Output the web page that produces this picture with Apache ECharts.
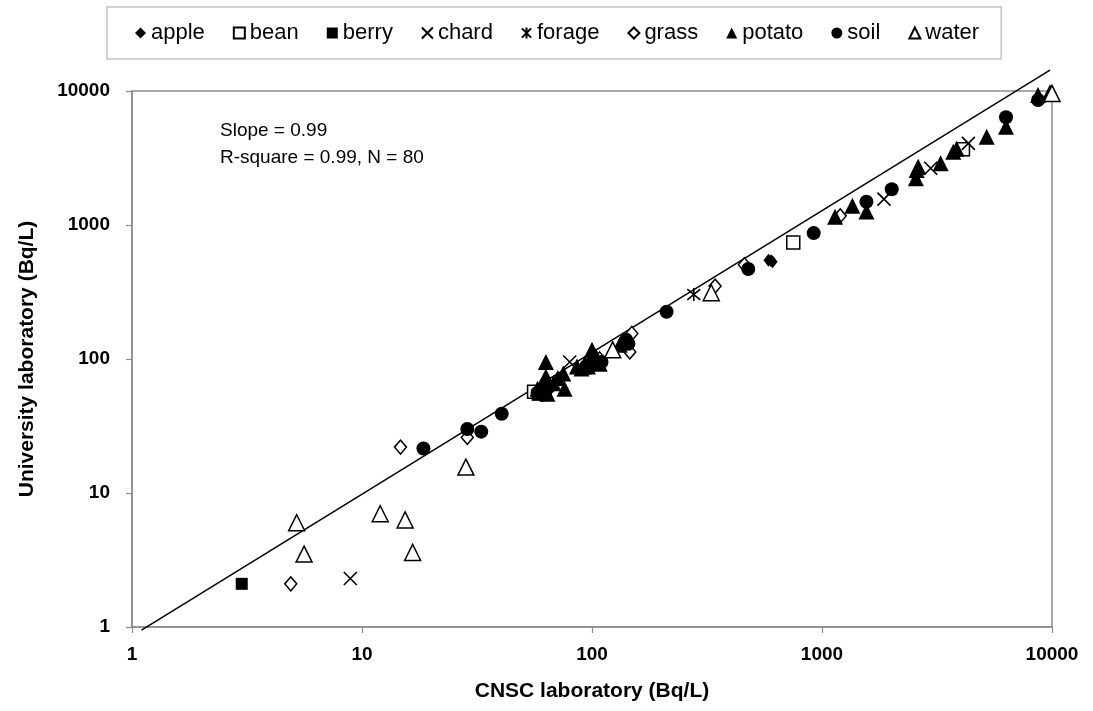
<!DOCTYPE html>
<html><head><meta charset="utf-8">
<script src="https://cdn.jsdelivr.net/npm/echarts@6/dist/echarts.min.js"></script>
<style>html,body{margin:0;padding:0;background:#fff}#c{width:1093px;height:711px}</style>
</head><body><div id="c"></div>
<script>
const categories = ['apple','bean','berry','chard','forage','grass','potato','soil','water'];
const apple = [[600,540],[585,545],[610,532]];
const bean = [[56,57],[750,740],[4100,3670]];
const berry = [[3,2.1],[58,54]];
const chard = [[8.9,2.3],[80,95],[1860,1560],[2970,2650],[4330,4070]];
const forage = [[277,303]];
const grass = [[4.9,2.1],[14.7,22],[28.7,26],[108,100],[146,113],[149,155],[343,350],[460,505],[1200,1170]];
const potato = [[63,95],[63,74],[60,62],[62,67],[58,60],[64,55],[71,72],[75,78],[76,60],[68,66],[86,88],[90,85],[93,92],[96,88],[100,117],[98,100],[104,105],[108,92],[132,128],
  [1140,1150],[1355,1390],[1560,1260],[2580,2570],[2560,2230],[2620,2720],[3280,2890],[3720,3520],[3850,3700],[5200,4560],[6310,5420],[8700,9340],[9800,9800]];
const soil = [[18.5,21.5],[28.7,30],[33,28.7],[40.5,39],[58,56],[61,54],[63,58],[65,62],[97,86],[110,95],[141,139],[144,130],
  [211,225],[478,470],[920,870],[1560,1490],[2010,1850],[6310,6370],[8700,8570]];
const water = [[5.2,6.0],[5.6,3.5],[12,7.0],[15.4,6.3],[16.6,3.6],[28.3,15.6],[123,117],[330,312],[10000,9600]];
const trendLine = [[1.1,0.948],[9800,14330]];
const xTicks = [1,10,100,1000,10000];
const yTicks = [1,10,100,1000,10000];
const annot = ['Slope = 0.99','R-square = 0.99, N = 80'];

const FONT = 'Liberation Sans, Arial, sans-serif';
const dataMap = {apple, bean, berry, chard, forage, grass, potato, soil, water};
const filled = {color:'#000', borderColor:'#000', borderWidth:0, opacity:1};
const open = {color:'#fff', borderColor:'#000', borderWidth:1.5, opacity:1};
const stroke = {color:'rgba(0,0,0,0)', borderColor:'#000', borderWidth:1.6, opacity:1};
const styles = {
  apple:{symbol:'diamond', size:[10,13], item:filled},
  bean:{symbol:'rect', size:13, item:open},
  berry:{symbol:'rect', size:12, item:filled},
  chard:{symbol:'path://M0,0L10,10M10,0L0,10', size:13, item:stroke},
  forage:{symbol:'path://M0,0L10,10M10,0L0,10M5,-1L5,11', size:13, item:stroke},
  grass:{symbol:'diamond', size:[12,14], item:open},
  potato:{symbol:'triangle', size:[16,16], item:filled},
  soil:{symbol:'circle', size:14, item:filled},
  water:{symbol:'triangle', size:[16,16], item:open}
};
const series = categories.map(n => ({
  name:n, type:'scatter', data:dataMap[n], symbol:styles[n].symbol, symbolSize:styles[n].size,
  itemStyle:styles[n].item, emphasis:{disabled:true}, z:3
}));
series.push({type:'line', data:trendLine, showSymbol:false, symbol:'none', clip:false,
  lineStyle:{color:'#000', width:1.5}, silent:true, z:2, emphasis:{disabled:true}});

const chart = echarts.init(document.getElementById('c'));
chart.setOption({
  animation:false,
  backgroundColor:'#fff',
  textStyle:{fontFamily:FONT},
  grid:{left:132, right:41, top:91, bottom:84, show:true, borderColor:'#8c8c8c', borderWidth:1.5},
  legend:{
    data:categories, left:107, top:7, padding:[15,22,15,28],
    borderColor:'#c4c4c4', borderWidth:1.5, itemGap:28, itemWidth:11, itemHeight:11,
    textStyle:{fontSize:22, color:'#000', fontFamily:FONT}
  },
  xAxis:{type:'log', logBase:10, min:1, max:10000,
    name:'CNSC laboratory (Bq/L)', nameLocation:'middle', nameGap:54,
    nameTextStyle:{fontSize:21, fontWeight:'bold', color:'#000', fontFamily:FONT},
    axisLine:{lineStyle:{color:'#8c8c8c', width:1.5}},
    axisTick:{show:true, length:6, lineStyle:{color:'#8c8c8c', width:1.2}},
    axisLabel:{fontSize:19, fontWeight:'bold', color:'#000', margin:18, fontFamily:FONT,
      formatter:v => xTicks.includes(Math.round(v)) ? String(Math.round(v)) : ''},
    splitLine:{show:false}, minorTick:{show:false}
  },
  yAxis:{type:'log', logBase:10, min:1, max:10000,
    name:'University laboratory (Bq/L)', nameLocation:'middle', nameGap:94,
    nameTextStyle:{fontSize:21, fontWeight:'bold', color:'#000', fontFamily:FONT},
    axisLine:{lineStyle:{color:'#8c8c8c', width:1.5}},
    axisTick:{show:true, length:6, lineStyle:{color:'#8c8c8c', width:1.2}},
    axisLabel:{fontSize:19, fontWeight:'bold', color:'#000', margin:22, fontFamily:FONT,
      formatter:v => yTicks.includes(Math.round(v)) ? String(Math.round(v)) : ''},
    splitLine:{show:false}, minorTick:{show:false}
  },
  graphic:[
    {type:'text', left:220, top:121, style:{text:annot[0], fontSize:19, fill:'#000', fontFamily:FONT}},
    {type:'text', left:220, top:148, style:{text:annot[1], fontSize:19, fill:'#000', fontFamily:FONT}}
  ],
  series
});
</script></body></html>
